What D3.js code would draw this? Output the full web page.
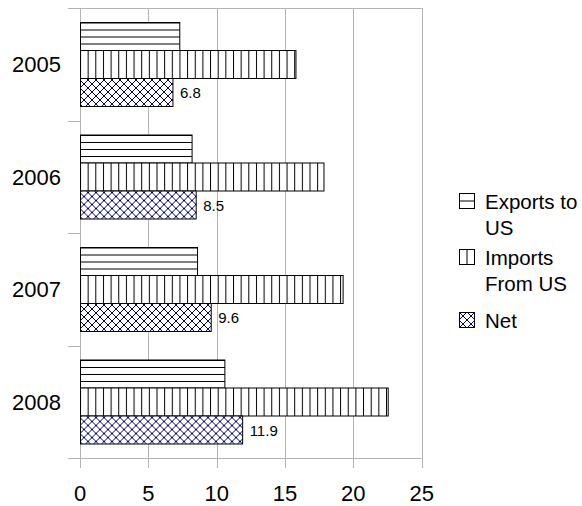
<!DOCTYPE html>
<html>
<head>
<meta charset="utf-8">
<script src="https://cdn.jsdelivr.net/npm/d3@7"></script>
<style>
  html, body { margin: 0; padding: 0; background: #fff; }
  svg { display: block; font-family: "Liberation Sans", Arial, sans-serif; }
</style>
</head>
<body>
<svg id="chart" width="582" height="506"></svg>
<script>
// Trade with the US, by year (billions)
const years = ["2005", "2006", "2007", "2008"];
const seriesNames = ["Exports to US", "Imports From US", "Net"];
const exportsToUS = [7.3, 8.2, 8.6, 10.6];
const importsFromUS = [15.8, 17.85, 19.25, 22.55];
const net = [6.8, 8.5, 9.6, 11.9];
const xTicks = [0, 5, 10, 15, 20, 25];
const legendLines = [["Exports to", "US"], ["Imports", "From US"], ["Net"]];

const seriesValues = [exportsToUS, importsFromUS, net];
const patternIds = ["pat-hlines", "pat-vlines", "pat-cross"];

const svg = d3.select("#chart");
const margin = { left: 80, top: 8, right: 582 - 421.7, bottom: 506 - 458 };
const W = 582 - margin.left - margin.right;
const H = 506 - margin.top - margin.bottom;
const grid = "#b3b3b3";

// Fill patterns
const defs = svg.append("defs");
const ph = defs.append("pattern").attr("id", "pat-hlines")
  .attr("patternUnits", "objectBoundingBox")
  .attr("width", 1).attr("height", 0.25);
ph.append("rect").attr("width", 2000).attr("height", 40).attr("fill", "#fff");
ph.append("line").attr("x1", 0).attr("x2", 2000).attr("y1", 0.5).attr("y2", 0.5)
  .attr("stroke", "#000").attr("stroke-width", 1);

const pv = defs.append("pattern").attr("id", "pat-vlines")
  .attr("patternUnits", "userSpaceOnUse")
  .attr("width", 7.65).attr("height", 200);
pv.append("rect").attr("width", 7.65).attr("height", 200).attr("fill", "#fff");
pv.append("line").attr("x1", 0.5).attr("x2", 0.5).attr("y1", 0).attr("y2", 200)
  .attr("stroke", "#000").attr("stroke-width", 1);

const pc = defs.append("pattern").attr("id", "pat-cross")
  .attr("patternUnits", "userSpaceOnUse")
  .attr("width", 8).attr("height", 8);
pc.append("rect").attr("width", 8).attr("height", 8).attr("fill", "#fff");
pc.append("path").attr("d", "M0,0L8,8M8,0L0,8M-1,7L1,9M7,-1L9,1")
  .attr("stroke", "#000080").attr("stroke-width", 1.1).attr("fill", "none")
  .attr("shape-rendering", "crispEdges");

const g = svg.append("g").attr("transform", `translate(${margin.left},${margin.top})`);

const x = d3.scaleLinear().domain([0, 25]).range([0, W]);
const y = d3.scaleBand().domain(years).range([0, H]).paddingInner(0).paddingOuter(0);
const inner = d3.scaleBand().domain(d3.range(seriesNames.length))
  .range([14, y.bandwidth() - 14]).padding(0);

// Vertical gridlines (extending below the axis as ticks)
g.append("g").selectAll("line").data(xTicks).join("line")
  .attr("x1", d => Math.round(x(d)) + 0.5).attr("x2", d => Math.round(x(d)) + 0.5)
  .attr("y1", 0).attr("y2", H + 10)
  .attr("stroke", grid).attr("stroke-width", 1);

// Top and bottom frame lines
[0, H].forEach(v => {
  g.append("line").attr("x1", -12).attr("x2", W)
    .attr("y1", Math.round(v) + 0.5).attr("y2", Math.round(v) + 0.5)
    .attr("stroke", grid);
});

// Category boundary ticks
const bounds = years.map(d => y(d)).concat([H]);
g.append("g").selectAll("line").data(bounds).join("line")
  .attr("x1", -12).attr("x2", 0)
  .attr("y1", d => Math.round(d) + 0.5).attr("y2", d => Math.round(d) + 0.5)
  .attr("stroke", grid);

// X tick labels
g.append("g").selectAll("text").data(xTicks).join("text")
  .attr("x", d => x(d)).attr("y", H + 42.5)
  .attr("text-anchor", "middle").attr("font-size", 22).attr("fill", "#000")
  .text(d => d);

// Year labels
g.append("g").selectAll("text").data(years).join("text")
  .attr("x", -19).attr("y", d => y(d) + y.bandwidth() / 2 + 8)
  .attr("text-anchor", "end").attr("font-size", 22).attr("fill", "#000")
  .text(d => d);

// Bars
years.forEach((yr, i) => {
  const grp = g.append("g").attr("transform", `translate(0,${y(yr)})`);
  seriesValues.forEach((vals, s) => {
    grp.append("rect")
      .attr("x", 0.5).attr("y", Math.round(inner(s)) + 0.5)
      .attr("width", x(vals[i]) - 0.5).attr("height", Math.round(inner.bandwidth()))
      .attr("fill", `url(#${patternIds[s]})`)
      .attr("stroke", "#000").attr("stroke-width", 1);
  });
  // Value label on the net bar
  grp.append("text")
    .attr("x", x(net[i]) + 7)
    .attr("y", inner(2) + inner.bandwidth() / 2 + 6)
    .attr("font-size", 15).attr("fill", "#000")
    .text(net[i].toFixed(1));
});

// Legend
const legend = svg.append("g");
const legendY = [193, 249, 312];
legendLines.forEach((lines, i) => {
  const lg = legend.append("g").attr("transform", `translate(459,${legendY[i]})`);
  lg.append("rect").attr("x", 0.5).attr("y", 0.5).attr("width", 15).attr("height", 15)
    .attr("fill", i === 2 ? "url(#pat-cross)" : "#fff")
    .attr("stroke", "#000");
  if (i === 0) lg.append("line").attr("x1", 0.5).attr("x2", 15.5).attr("y1", 8).attr("y2", 8).attr("stroke", "#000");
  if (i === 1) lg.append("line").attr("x1", 8).attr("x2", 8).attr("y1", 0.5).attr("y2", 15.5).attr("stroke", "#000");
  lines.forEach((t, k) => {
    lg.append("text").attr("x", 26).attr("y", 16 + k * 26)
      .attr("font-size", 20.5).attr("fill", "#000").text(t);
  });
});
</script>
</body>
</html>
